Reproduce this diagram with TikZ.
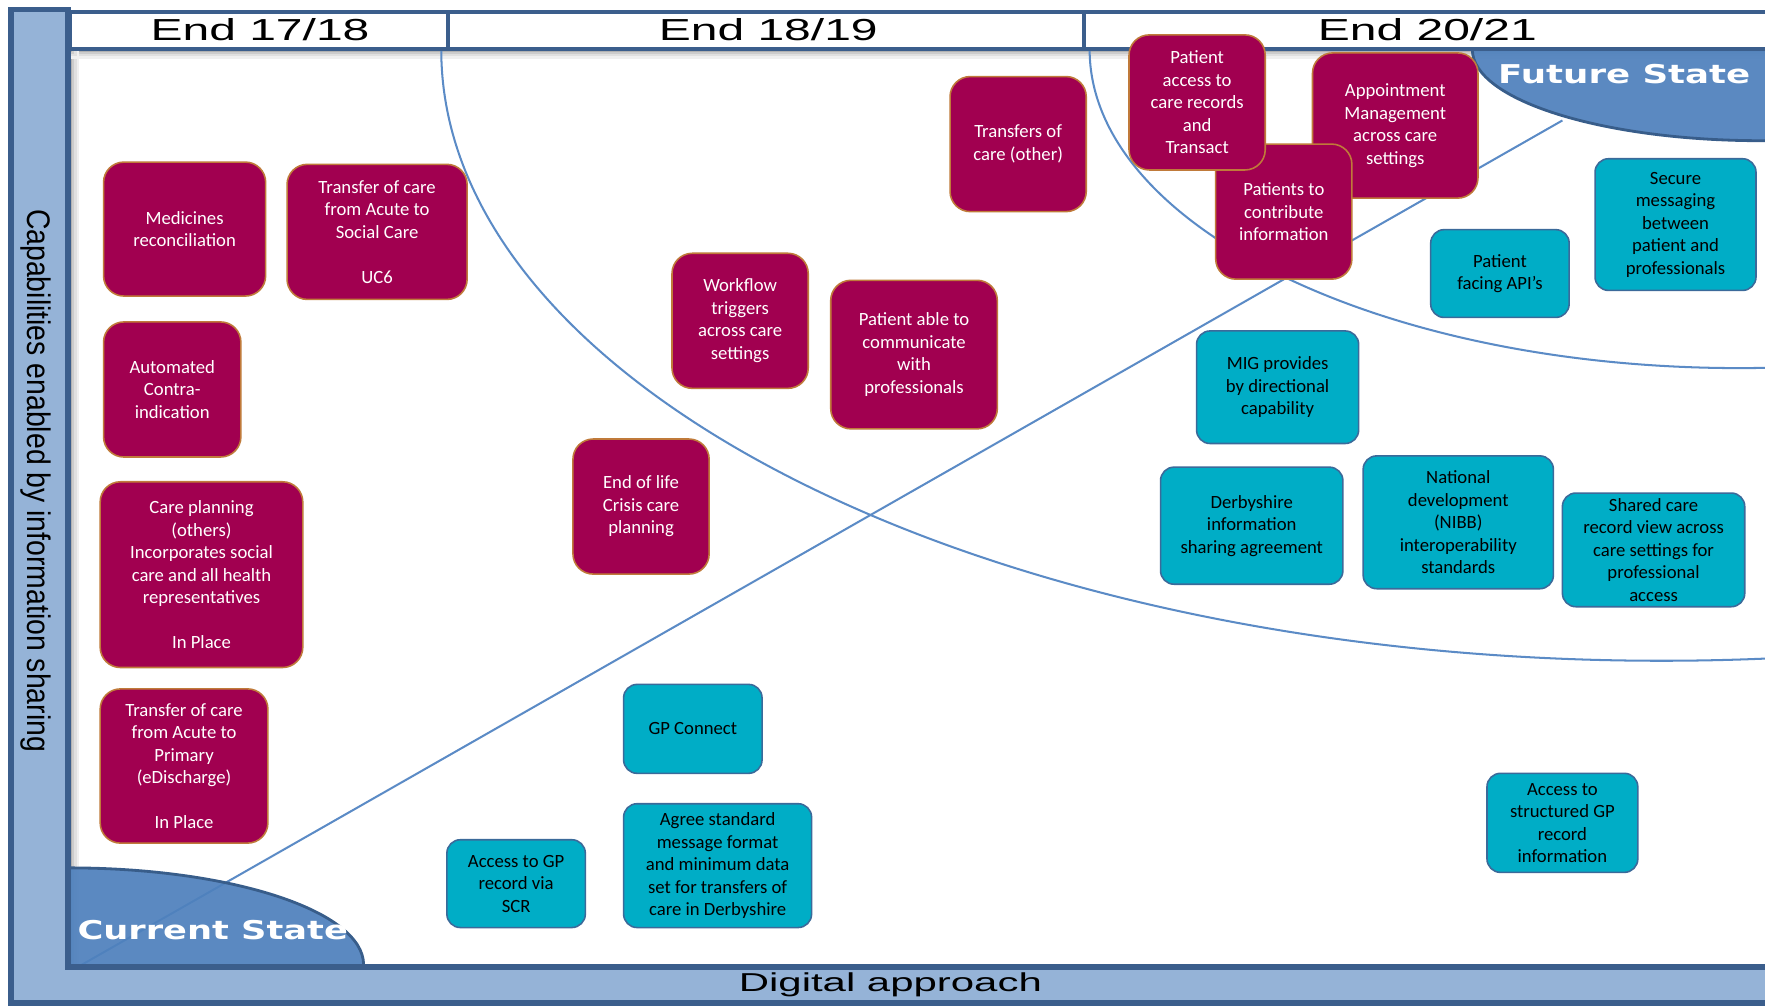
\documentclass[tikz,border=0pt]{standalone}
\usepackage{fontspec}
\setmainfont{Carlito}
\newfontfamily\arialfont{Liberation Sans}
\newfontfamily\verdanafont{DejaVu Sans}

\definecolor{barfill}{HTML}{95B3D7}
\definecolor{bardark}{HTML}{3B5E8C}
\definecolor{statefill}{HTML}{4F81BD}
\definecolor{statedark}{HTML}{385D8A}
\definecolor{arcblue}{HTML}{5B8BC6}
\definecolor{capfill}{HTML}{A10050}
\definecolor{capline}{HTML}{C07A3A}
\definecolor{techfill}{HTML}{00ADC6}
\definecolor{techline}{HTML}{3B6A9A}

\tikzset{
  box/.style={align=center, inner sep=0pt, line width=1.4pt,
    font=\fontsize{16.6}{20}\selectfont},
  capbox/.style={box, rounded corners=18pt, fill=capfill, draw=capline, text=white},
  techbox/.style={box, rounded corners=12pt, fill=techfill, draw=techline, text=black},
  arc/.style={draw=arcblue, line width=1.8pt},
  state/.style={fill=statefill, draw=statedark, line width=2.5pt, fill opacity=0.93},
  statelabel/.style={text=white, font=\verdanafont\bfseries\fontsize{23}{24}\selectfont},
  headlabel/.style={font=\arialfont\fontsize{27}{28}\selectfont},
}

\begin{document}
\begin{tikzpicture}[x=1pt, y=-1pt]
  \useasboundingbox (0,0) rectangle (1568,895);
  \fill[white] (0,0) rectangle (1568,895);

  % shadow along the plot area
  \foreach \d/\c in {1/30,3/20,5/12,7/6}{
    \draw[black!\c, line width=2pt] (62+\d,44) -- (62+\d,858);
    \draw[black!\c, line width=2pt] (62,44+\d) -- (1568,44+\d);
  }

  % arcs and trend line, kept inside the plot area
  \begin{scope}
    \clip (62,43) rectangle (1568,858);
    \draw[arc] (1476,44) ellipse [x radius=1084, y radius=543];
    \draw[arc] (1545,44) ellipse [x radius=577, y radius=283];
    \coordinate (now) at (71,858);
    \coordinate (goal) at (1388,107);
    \draw[arc] (now) -- (goal);
    \filldraw[state] (1565,44) ellipse [x radius=257, y radius=81];
    \filldraw[state] (61,857) ellipse [x radius=262, y radius=86];
  \end{scope}

  % axes
  \filldraw[fill=barfill, draw=bardark, line width=5pt]
    (9.7,8.5) -- (60.3,8.5) -- (60.3,859) -- (1580,859) -- (1580,891) -- (9.7,891) -- cycle;
  \filldraw[fill=white, draw=bardark, line width=3.5pt] (62,10.6) rectangle (1580,43.2);
  \draw[bardark, line width=3.5pt] (398,10.6) -- (398,43.2) (963,10.6) -- (963,43.2);

  \node[headlabel] (y1) at (231,26) {\scalebox{1.58}[1]{End 17/18}};
  \node[headlabel] (y2) at (682.5,26) {\scalebox{1.58}[1]{End 18/19}};
  \node[headlabel] (y3) at (1268,26) {\scalebox{1.58}[1]{End 20/21}};
  \node[rotate=-90, font=\arialfont\fontsize{29}{30}\selectfont] (ylab) at (32,427)
    {\scalebox{0.87}[1]{Capabilities enabled by information sharing}};
  \node[font=\arialfont\fontsize{23}{24}\selectfont] (xlab) at (791,875)
    {\scalebox{1.62}[1]{Digital approach}};
  \node[statelabel] (future) at (1443,66) {\scalebox{1.375}[1]{Future State}};
  \node[statelabel] (current) at (189,826) {\scalebox{1.36}[1]{Current State}};

  % capabilities
  \node[capbox, minimum width=144pt, minimum height=119pt] (medrec) at (164,203.5)
    {Medicines\\reconciliation};
  \node[capbox, minimum width=160pt, minimum height=120pt] (tocsocial) at (335,206)
    {Transfer of care\\from Acute to\\Social Care\\[20pt]UC6};
  \node[capbox, minimum width=122pt, minimum height=120pt] (contra) at (153,346)
    {Automated\\Contra-\\indication};
  \node[capbox, minimum width=180pt, minimum height=165pt] (careplan) at (179,510.5)
    {Care planning\\(others)\\Incorporates social\\care and all health\\representatives\\[20pt]In Place};
  \node[capbox, minimum width=149pt, minimum height=137pt] (tocprimary) at (163.5,680.5)
    {Transfer of care\\from Acute to\\Primary\\(eDischarge)\\[20pt]In Place};
  \node[capbox, minimum width=121pt, minimum height=120pt] (endlife) at (569.5,450)
    {End of life\\Crisis care\\planning};
  \node[capbox, minimum width=121pt, minimum height=120pt] (workflow) at (657.5,285)
    {Workflow\\triggers\\across care\\settings};
  \node[capbox, minimum width=148pt, minimum height=132pt] (commpro) at (812,315)
    {Patient able to\\communicate\\with\\professionals};
  \node[capbox, minimum width=121pt, minimum height=120pt] (tocother) at (904.5,128)
    {Transfers of\\care (other)};
  \node[capbox, minimum width=147pt, minimum height=129pt] (appt) at (1239.5,111.5)
    {Appointment\\Management\\across care\\settings};
  \node[capbox, minimum width=121pt, minimum height=120pt] (contrib) at (1140.5,188)
    {Patients to\\contribute\\information};
  \node[capbox, minimum width=121pt, minimum height=120pt] (patacc) at (1063.5,91)
    {Patient\\access to\\care records\\and\\Transact};

  % technology
  \node[techbox, minimum width=123pt, minimum height=78pt] (api) at (1332.5,243)
    {Patient\\facing API’s};
  \node[techbox, minimum width=143pt, minimum height=117pt] (securemsg) at (1488.5,199.5)
    {Secure\\messaging\\between\\patient and\\professionals};
  \node[techbox, minimum width=144pt, minimum height=100pt] (mig) at (1135,344)
    {MIG provides\\by directional\\capability};
  \node[techbox, minimum width=162pt, minimum height=104pt] (isa) at (1112,467)
    {Derbyshire\\information\\sharing agreement};
  \node[techbox, minimum width=169pt, minimum height=118pt] (nibb) at (1295.5,464)
    {National\\development\\(NIBB)\\interoperability\\standards};
  \node[techbox, minimum width=162pt, minimum height=101pt] (shared) at (1469,488.5)
    {Shared care\\record view across\\care settings for\\professional\\access};
  \node[techbox, minimum width=123pt, minimum height=79pt] (gpconnect) at (615.5,647.5)
    {GP Connect};
  \node[techbox, minimum width=167pt, minimum height=110pt] (msgformat) at (637.5,769)
    {Agree standard\\message format\\and minimum data\\set for transfers of\\care in Derbyshire};
  \node[techbox, minimum width=123pt, minimum height=78pt] (scr) at (458.5,785)
    {Access to GP\\record via\\SCR};
  \node[techbox, minimum width=134pt, minimum height=88pt] (structgp) at (1388,731)
    {Access to\\structured GP\\record\\information};
\end{tikzpicture}
\end{document}
